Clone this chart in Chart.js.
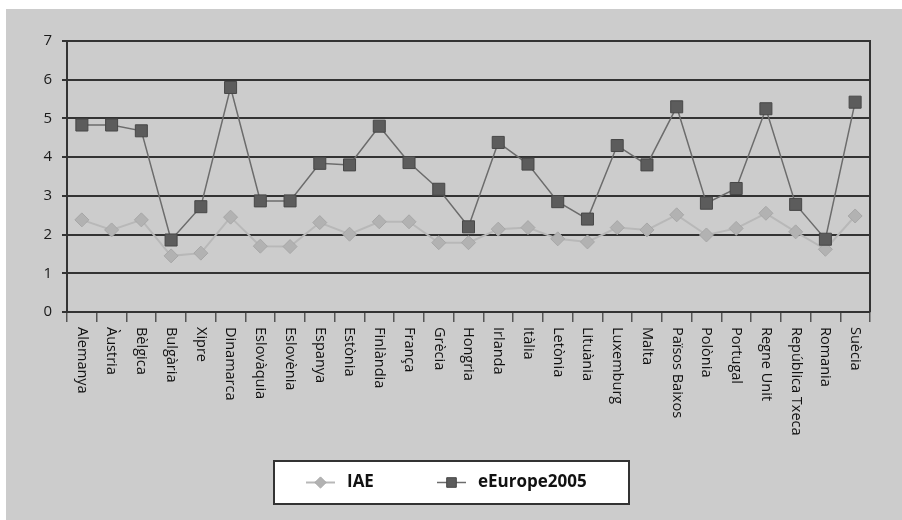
<!DOCTYPE html>
<html>
<head>
<meta charset="utf-8">
<script src="https://cdn.jsdelivr.net/npm/chart.js@4/dist/chart.umd.min.js"></script>
<style>
  html, body { margin: 0; padding: 0; background: #fff; }
  #wrap { position: absolute; left: 6px; top: 9px; width: 896px; height: 511px; background: #cccccc; }
  canvas { display: block; }
</style>
</head>
<body>
<div id="wrap"><canvas id="chart" width="896" height="511"></canvas></div>
<script>
const countries = ['Alemanya', 'Àustria', 'Bèlgica', 'Bulgària', 'Xipre', 'Dinamarca', 'Eslovàquia', 'Eslovènia',
  'Espanya', 'Estònia', 'Finlàndia', 'França', 'Grècia', 'Hongria', 'Irlanda', 'Itàlia', 'Letònia', 'Lituània',
  'Luxemburg', 'Malta', 'Països Baixos', 'Polònia', 'Portugal', 'Regne Unit', 'República Txeca', 'Romania', 'Suècia'];

const iae = [2.38, 2.12, 2.38, 1.45, 1.52, 2.45, 1.70, 1.69, 2.31, 2.01, 2.33, 2.33, 1.79, 1.79, 2.14, 2.18, 1.89,
  1.81, 2.18, 2.12, 2.51, 1.99, 2.16, 2.55, 2.07, 1.62, 2.48];

const eEurope2005 = [4.83, 4.83, 4.68, 1.86, 2.72, 5.80, 2.87, 2.87, 3.84, 3.80, 4.80, 3.86, 3.17, 2.20, 4.38, 3.82,
  2.85, 2.40, 4.30, 3.80, 5.30, 2.81, 3.19, 5.25, 2.78, 1.88, 5.42];

const yTicks = [0, 1, 2, 3, 4, 5, 6, 7];

const FONT = "'Open Sans', 'Noto Sans', sans-serif";

// category names drawn rotated clockwise, reading downwards from the axis
const xLabels = {
  id: 'xLabels',
  afterDraw(chart) {
    const ctx = chart.ctx;
    const x = chart.scales.x;
    ctx.save();
    ctx.fillStyle = '#111111';
    ctx.font = '500 14.5px ' + FONT;
    ctx.textAlign = 'left';
    ctx.textBaseline = 'middle';
    countries.forEach((name, i) => {
      ctx.save();
      ctx.translate(x.getPixelForValue(i), chart.chartArea.bottom + 15);
      ctx.rotate(Math.PI / 2);
      ctx.fillText(name, 0, 0);
      ctx.restore();
    });
    ctx.restore();
  }
};

// right-hand frame line plus the boxed legend under the axis
const frameAndLegend = {
  id: 'frameAndLegend',
  afterDraw(chart) {
    const ctx = chart.ctx;
    const a = chart.chartArea;
    ctx.save();
    ctx.strokeStyle = '#333333';
    ctx.lineWidth = 2;
    ctx.beginPath();
    ctx.moveTo(a.right, a.top - 1);
    ctx.lineTo(a.right, a.bottom);
    ctx.stroke();

    const box = { x: 268, y: 452, w: 355, h: 43 };
    ctx.fillStyle = '#ffffff';
    ctx.fillRect(box.x, box.y, box.w, box.h);
    ctx.lineWidth = 2;
    ctx.strokeStyle = '#333333';
    ctx.strokeRect(box.x, box.y, box.w, box.h);

    const cy = box.y + box.h / 2;
    const items = [
      { ds: chart.data.datasets[0], x: 300 },
      { ds: chart.data.datasets[1], x: 431 }
    ];
    items.forEach(({ ds, x }) => {
      ctx.strokeStyle = ds.borderColor;
      ctx.lineWidth = ds.borderWidth;
      ctx.beginPath();
      ctx.moveTo(x, cy);
      ctx.lineTo(x + 29, cy);
      ctx.stroke();
      ctx.fillStyle = ds.pointBackgroundColor;
      ctx.strokeStyle = ds.pointBorderColor;
      ctx.lineWidth = 1;
      Chart.helpers.drawPoint(ctx, { pointStyle: ds.pointStyle, radius: ds.pointRadius * 0.8, rotation: 0, borderWidth: 1 }, x + 14.5, cy);
      ctx.fillStyle = '#111111';
      ctx.font = 'bold 17px ' + FONT;
      ctx.textAlign = 'left';
      ctx.textBaseline = 'middle';
      ctx.fillText(ds.label, x + 41, cy);
    });
    ctx.restore();
  }
};

new Chart(document.getElementById('chart'), {
  type: 'line',
  data: {
    labels: countries,
    datasets: [
      {
        label: 'IAE',
        data: iae,
        order: 2,
        borderColor: '#b8b8b8',
        borderWidth: 2,
        pointStyle: 'rectRot',
        pointRadius: 7,
        pointBackgroundColor: '#b2b2b2',
        pointBorderColor: '#a6a6a6',
        pointBorderWidth: 1,
        tension: 0
      },
      {
        label: 'eEurope2005',
        data: eEurope2005,
        order: 1,
        borderColor: '#6c6c6c',
        borderWidth: 1.5,
        pointStyle: 'rect',
        pointRadius: 8.5,
        pointBackgroundColor: '#5c5c5c',
        pointBorderColor: '#474747',
        pointBorderWidth: 1,
        tension: 0
      }
    ]
  },
  options: {
    responsive: false,
    animation: false,
    events: [],
    layout: { padding: { left: 0, top: 32, right: 32, bottom: 0 } },
    plugins: {
      legend: { display: false },
      tooltip: { enabled: false },
      title: { display: false }
    },
    scales: {
      x: {
        offset: true,
        grid: {
          offset: true,
          drawOnChartArea: false,
          drawTicks: true,
          tickLength: 10,
          color: '#555555',
          lineWidth: 1.5
        },
        border: { color: '#333333', width: 2 },
        ticks: { display: false },
        afterFit(scale) { scale.height = 208; }
      },
      y: {
        min: 0,
        max: 7,
        afterBuildTicks(scale) { scale.ticks = yTicks.map(v => ({ value: v })); },
        grid: {
          color: '#333333',
          lineWidth: 2,
          tickLength: 5
        },
        border: { color: '#333333', width: 2 },
        ticks: {
          color: '#1a1a1a',
          padding: 10,
          font: { family: FONT, size: 15, weight: '500' }
        },
        afterFit(scale) { scale.width = 61; }
      }
    }
  },
  plugins: [xLabels, frameAndLegend]
});
</script>
</body>
</html>
